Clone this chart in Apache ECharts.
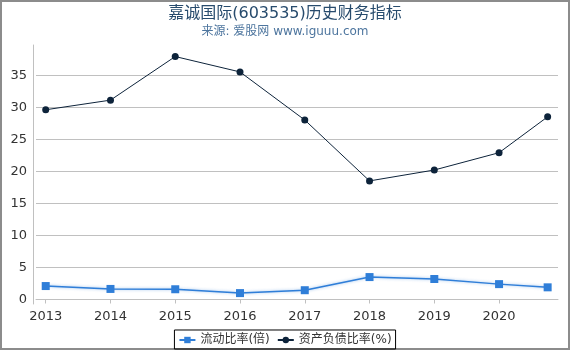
<!DOCTYPE html>
<html>
<head>
<meta charset="utf-8">
<script src="https://cdn.jsdelivr.net/npm/echarts@6/dist/echarts.min.js"></script>
<style>
    body { margin: 0; background: #fff; }
    #chart { width: 570px; height: 350px; }
</style>
</head>
<body>
<div id="chart"></div>
<script>
    // 年份位置（最后一点为2020年三季度）
    var periods = [2013, 2014, 2015, 2016, 2017, 2018, 2019, 2020, 2020.75];
    var yearTicks = [2013, 2014, 2015, 2016, 2017, 2018, 2019, 2020];
    var valueTicks = [0, 5, 10, 15, 20, 25, 30, 35];
    // 流动比率(倍)
    var currentRatio = [2.1, 1.65, 1.6, 1.0, 1.45, 3.5, 3.2, 2.4, 1.9];
    // 资产负债比率(%)
    var debtRatio = [29.6, 31.1, 37.9, 35.5, 28.0, 18.5, 20.2, 22.9, 28.5];

    var font = "'DejaVu Sans', 'Noto Sans CJK SC', sans-serif";

    function pairs(xs, ys) {
        return xs.map(function (x, i) { return [x, ys[i]]; });
    }

    var chart = echarts.init(document.getElementById('chart'));
    chart.setOption({
        animation: false,
        textStyle: { fontFamily: font },
        title: {
            text: '嘉诚国际(603535)历史财务指标',
            subtext: '来源: 爱股网 www.iguuu.com',
            left: 'center',
            top: 1,
            itemGap: 4,
            textStyle: { fontFamily: font, fontSize: 16, fontWeight: 'normal', color: '#274b6d' },
            subtextStyle: { fontFamily: font, fontSize: 12, color: '#4d759e' }
        },
        graphic: [{
            type: 'rect',
            shape: { x: 1, y: 1, width: 568, height: 348 },
            style: { fill: 'none', stroke: '#8c8c8c', lineWidth: 2 },
            silent: true
        }],
        legend: {
            bottom: 1,
            left: 'center',
            padding: [4, 4, 3, 4],
            borderColor: '#000',
            borderWidth: 1,
            itemWidth: 16,
            itemHeight: 8,
            itemGap: 7,
            textStyle: { fontFamily: font, fontSize: 12, color: '#333' },
            data: ['流动比率(倍)', '资产负债比率(%)']
        },
        grid: { left: 36, right: 12, top: 45, bottom: 46 },
        xAxis: {
            type: 'value',
            min: 2012.85,
            max: 2020.91,
            splitLine: { show: false },
            axisLine: { show: true, lineStyle: { color: '#c0c0c0' } },
            axisTick: { show: true, length: 4, lineStyle: { color: '#c0c0c0' }, customValues: yearTicks },
            axisLabel: {
                color: '#333', fontSize: 13, margin: 6, customValues: yearTicks,
                formatter: function (v) { return String(v); }
            }
        },
        yAxis: {
            type: 'value',
            min: -0.7,
            max: 39.7,
            offset: 3,
            axisLine: { show: true, lineStyle: { color: '#c0c0c0' } },
            axisTick: { show: false, customValues: valueTicks },
            splitLine: { show: true, lineStyle: { color: '#c0c0c0' } },
            axisLabel: { color: '#333', fontSize: 13, margin: 6, customValues: valueTicks }
        },
        series: [
            {
                name: '流动比率(倍)',
                type: 'line',
                data: pairs(periods, currentRatio),
                symbol: 'rect',
                symbolSize: 8,
                color: '#2f7ed8',
                lineStyle: { width: 1.5, color: '#2f7ed8', shadowColor: 'rgba(47,126,216,0.5)', shadowBlur: 3 },
                itemStyle: { color: '#2f7ed8' }
            },
            {
                name: '资产负债比率(%)',
                type: 'line',
                data: pairs(periods, debtRatio),
                symbol: 'circle',
                symbolSize: 7,
                color: '#0d233a',
                lineStyle: { width: 1, color: '#0d233a' },
                itemStyle: { color: '#0d233a' }
            }
        ]
    });
</script>
</body>
</html>
